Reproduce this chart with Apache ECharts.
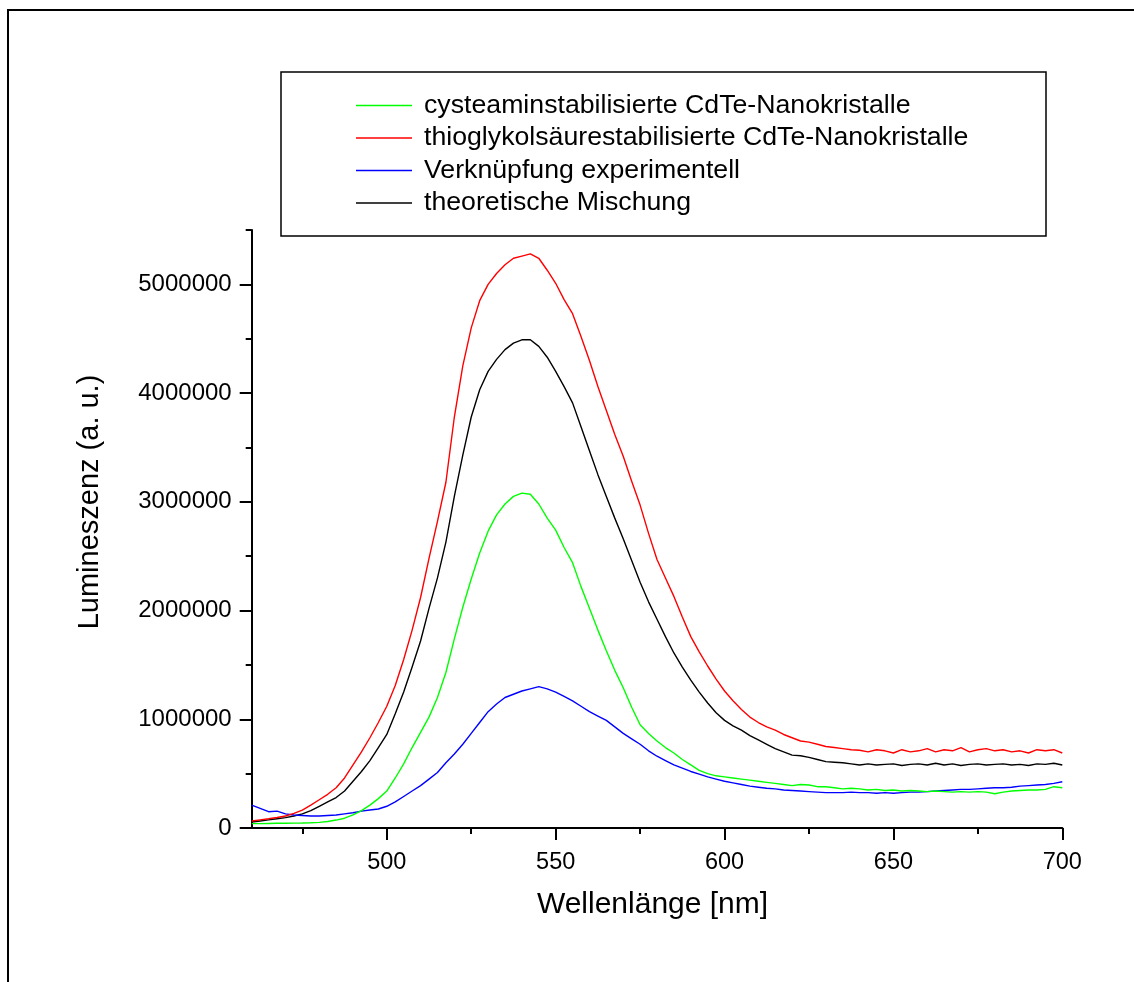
<!DOCTYPE html>
<html>
<head>
<meta charset="utf-8">
<script src="https://cdn.jsdelivr.net/npm/echarts@6/dist/echarts.min.js"></script>
<style>
  html, body { margin: 0; padding: 0; background: #fff; }
  #chart { width: 1134px; height: 982px; }
</style>
</head>
<body>
<div id="chart"></div>
<script>
// Wavelength grid (nm)
const wavelengths = [
  460, 462.5, 465, 467.5, 470, 472.5, 475, 477.5, 480, 482.5, 485, 487.5, 490, 492.5, 495, 497.5,
  500, 502.5, 505, 507.5, 510, 512.5, 515, 517.5, 520, 522.5, 525, 527.5, 530, 532.5, 535, 537.5,
  540, 542.5, 545, 547.5, 550, 552.5, 555, 557.5, 560, 562.5, 565, 567.5, 570, 572.5, 575, 577.5,
  580, 582.5, 585, 587.5, 590, 592.5, 595, 597.5, 600, 602.5, 605, 607.5, 610, 612.5, 615, 617.5,
  620, 622.5, 625, 627.5, 630, 632.5, 635, 637.5, 640, 642.5, 645, 647.5, 650, 652.5, 655, 657.5,
  660, 662.5, 665, 667.5, 670, 672.5, 675, 677.5, 680, 682.5, 685, 687.5, 690, 692.5, 695, 697.5, 700
];

// Luminescence in millions of counts
const cysteamin = [
  0.04, 0.04, 0.042, 0.043, 0.043, 0.045, 0.046, 0.048, 0.052, 0.06, 0.073, 0.09, 0.12, 0.16, 0.21, 0.27,
  0.34, 0.46, 0.59, 0.74, 0.88, 1.02, 1.20, 1.43, 1.74, 2.03, 2.29, 2.53, 2.73, 2.88, 2.98, 3.05,
  3.08, 3.07, 2.98, 2.85, 2.74, 2.58, 2.44, 2.22, 2.02, 1.82, 1.63, 1.45, 1.29, 1.11, 0.95, 0.87,
  0.80, 0.74, 0.69, 0.63, 0.58, 0.53, 0.50, 0.48, 0.47, 0.46, 0.45, 0.44, 0.43, 0.42, 0.41, 0.40,
  0.39, 0.40, 0.395, 0.38, 0.38, 0.37, 0.36, 0.365, 0.36, 0.35, 0.355, 0.345, 0.35, 0.34, 0.345, 0.34,
  0.335, 0.34, 0.335, 0.33, 0.335, 0.33, 0.335, 0.33, 0.315, 0.33, 0.34, 0.345, 0.35, 0.35, 0.355, 0.38, 0.37
];

const thioglykol = [
  0.065, 0.075, 0.085, 0.097, 0.11, 0.135, 0.165, 0.21, 0.26, 0.31, 0.37, 0.46, 0.58, 0.70, 0.83, 0.97,
  1.12, 1.31, 1.55, 1.82, 2.12, 2.48, 2.82, 3.18, 3.78, 4.25, 4.60, 4.85, 5.00, 5.10, 5.18, 5.24,
  5.26, 5.28, 5.24, 5.13, 5.01, 4.86, 4.73, 4.52, 4.30, 4.06, 3.84, 3.62, 3.42, 3.19, 2.97, 2.71,
  2.47, 2.30, 2.13, 1.94, 1.76, 1.62, 1.49, 1.37, 1.26, 1.17, 1.09, 1.02, 0.97, 0.93, 0.90, 0.86,
  0.83, 0.80, 0.79, 0.77, 0.75, 0.74, 0.73, 0.72, 0.715, 0.70, 0.72, 0.71, 0.69, 0.72, 0.70, 0.71,
  0.73, 0.70, 0.72, 0.71, 0.74, 0.70, 0.72, 0.73, 0.71, 0.72, 0.70, 0.71, 0.69, 0.72, 0.71, 0.72, 0.69
];

const verknuepfung = [
  0.21, 0.18, 0.15, 0.155, 0.13, 0.12, 0.115, 0.11, 0.11, 0.115, 0.12, 0.13, 0.14, 0.155, 0.165, 0.175,
  0.20, 0.24, 0.29, 0.34, 0.39, 0.45, 0.51, 0.60, 0.68, 0.77, 0.87, 0.97, 1.07, 1.14, 1.20, 1.23,
  1.26, 1.28, 1.30, 1.28, 1.25, 1.21, 1.17, 1.12, 1.07, 1.03, 0.99, 0.93, 0.87, 0.82, 0.77, 0.71,
  0.66, 0.62, 0.58, 0.55, 0.52, 0.495, 0.47, 0.45, 0.43, 0.415, 0.40, 0.385, 0.375, 0.365, 0.36, 0.35,
  0.345, 0.34, 0.335, 0.33, 0.325, 0.325, 0.325, 0.33, 0.325, 0.325, 0.32, 0.325, 0.32, 0.325, 0.33, 0.33,
  0.335, 0.34, 0.345, 0.35, 0.355, 0.355, 0.36, 0.365, 0.37, 0.37, 0.375, 0.385, 0.39, 0.395, 0.40, 0.41, 0.425
];

const mischung = [
  0.055, 0.065, 0.075, 0.085, 0.095, 0.11, 0.13, 0.16, 0.20, 0.24, 0.28, 0.34, 0.43, 0.52, 0.62, 0.74,
  0.86, 1.05, 1.25, 1.48, 1.72, 2.02, 2.30, 2.63, 3.05, 3.43, 3.78, 4.03, 4.20, 4.31, 4.40, 4.46,
  4.49, 4.49, 4.43, 4.33, 4.20, 4.06, 3.91, 3.69, 3.47, 3.25, 3.05, 2.85, 2.66, 2.46, 2.26, 2.08,
  1.92, 1.76, 1.61, 1.48, 1.36, 1.25, 1.15, 1.06, 0.99, 0.94, 0.90, 0.85, 0.81, 0.77, 0.73, 0.70,
  0.67, 0.665, 0.65, 0.63, 0.61, 0.605, 0.60, 0.59, 0.58, 0.59, 0.58, 0.585, 0.59, 0.575, 0.585, 0.59,
  0.58, 0.595, 0.58, 0.59, 0.575, 0.585, 0.59, 0.58, 0.585, 0.59, 0.58, 0.585, 0.575, 0.59, 0.585, 0.595, 0.58
];

const seriesNames = [
  'cysteaminstabilisierte CdTe-Nanokristalle',
  'thioglykolsäurestabilisierte CdTe-Nanokristalle',
  'Verknüpfung experimentell',
  'theoretische Mischung'
];
const seriesColors = ['#00ff00', '#ff0000', '#0000ff', '#000000'];

const xMajorTicks = [500, 550, 600, 650, 700];
const xMinorTicks = [475, 525, 575, 625, 675];
const yMajorTicks = [0, 1000000, 2000000, 3000000, 4000000, 5000000];
const yMinorTicks = [500000, 1500000, 2500000, 3500000, 4500000, 5500000];

const FONT = '"Liberation Sans", Arial, sans-serif';

function toPairs(values) {
  return wavelengths.map((w, i) => [w, values[i] * 1e6]);
}

const chart = echarts.init(document.getElementById('chart'), null, { renderer: 'canvas' });

const axisLine = { show: true, lineStyle: { color: '#000', width: 2 } };

const option = {
  backgroundColor: '#fff',
  animation: false,
  grid: { left: 251.7, right: 71.7, top: 230, bottom: 154, containLabel: false },
  legend: {
    orient: 'vertical',
    left: 356,
    top: 92,
    padding: 0,
    itemWidth: 56,
    itemHeight: 1.5,
    itemGap: 5.5,
    icon: 'rect',
    selectedMode: false,
    textStyle: { fontFamily: FONT, fontSize: 26.7, lineHeight: 26, color: '#000', padding: [0, 0, 0, 7] },
    data: seriesNames.map((n, i) => ({
      name: n,
      itemStyle: { color: seriesColors[i], borderWidth: 0 }
    }))
  },
  xAxis: [
    {
      type: 'value', min: 460, max: 700, position: 'bottom',
      axisLine: axisLine,
      splitLine: { show: false },
      axisTick: { show: true, length: 12, lineStyle: { color: '#000', width: 2 }, customValues: xMajorTicks },
      axisLabel: { show: true, margin: 23, fontFamily: FONT, fontSize: 23.5, color: '#000', customValues: xMajorTicks },
      name: 'Wellenlänge [nm]', nameLocation: 'middle', nameGap: 62,
      nameTextStyle: { fontFamily: FONT, fontSize: 30, color: '#000', padding: [0, 9, 0, 0] }
    },
    {
      type: 'value', min: 460, max: 700, position: 'bottom',
      axisLine: { show: false },
      splitLine: { show: false },
      axisTick: { show: true, length: 6, lineStyle: { color: '#000', width: 2 }, customValues: xMinorTicks },
      axisLabel: { show: false }
    }
  ],
  yAxis: [
    {
      type: 'value', min: 0, max: 5500000, position: 'left',
      axisLine: axisLine,
      splitLine: { show: false },
      axisTick: { show: true, length: 12, lineStyle: { color: '#000', width: 2 }, customValues: yMajorTicks },
      axisLabel: {
        show: true, margin: 20, fontFamily: FONT, fontSize: 24, color: '#000',
        customValues: yMajorTicks,
        formatter: v => String(Math.round(v))
      },
      name: 'Lumineszenz (a. u.)', nameLocation: 'middle', nameGap: 147,
      nameTextStyle: { fontFamily: FONT, fontSize: 29, color: '#000', padding: [0, 0, 0, 54] }
    },
    {
      type: 'value', min: 0, max: 5500000, position: 'left',
      axisLine: { show: false },
      splitLine: { show: false },
      axisTick: { show: true, length: 6, lineStyle: { color: '#000', width: 2 }, customValues: yMinorTicks },
      axisLabel: { show: false }
    }
  ],
  graphic: [
    {
      type: 'rect', silent: true, z: -1,
      shape: { x: 8, y: 10, width: 1300, height: 1100 },
      style: { fill: 'none', stroke: '#000', lineWidth: 2 }
    },
    {
      type: 'rect', silent: true,
      shape: { x: 281, y: 72, width: 765, height: 164 },
      style: { fill: 'none', stroke: '#000', lineWidth: 1.5 }
    }
  ],
  series: [cysteamin, thioglykol, verknuepfung, mischung].map((vals, i) => ({
    name: seriesNames[i],
    type: 'line',
    xAxisIndex: 0,
    yAxisIndex: 0,
    data: toPairs(vals),
    showSymbol: false,
    symbol: 'none',
    smooth: false,
    lineStyle: { color: seriesColors[i], width: 1.4 },
    itemStyle: { color: seriesColors[i] },
    z: 10 - i
  }))
};

chart.setOption(option);
</script>
</body>
</html>
